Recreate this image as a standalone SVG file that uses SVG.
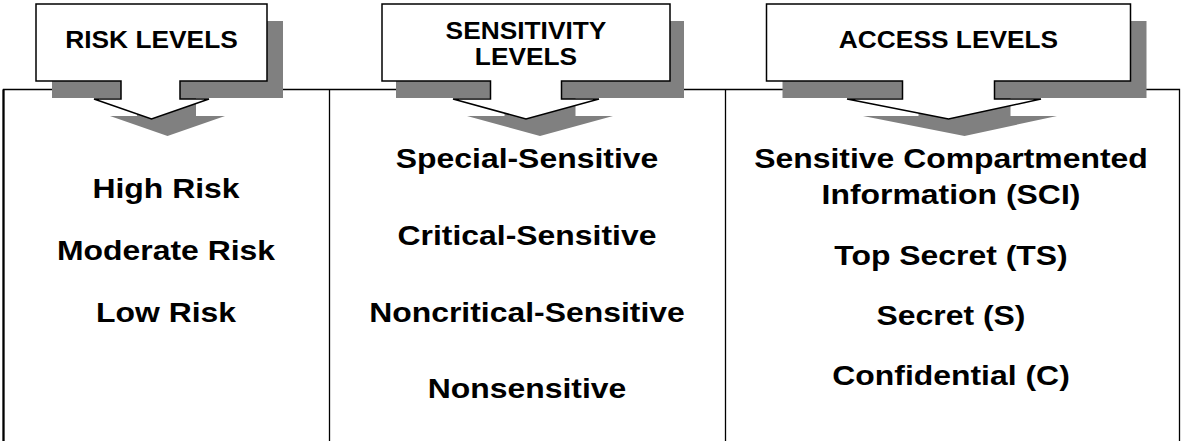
<svg xmlns="http://www.w3.org/2000/svg" width="1181" height="441" viewBox="0 0 1181 441">
<style>
.panel{fill:none;stroke:#000;stroke-width:1.3}
.shadow{fill:#808080;stroke:none}
.callout{fill:#fff;stroke:#000;stroke-width:1.5;stroke-linejoin:miter}
.hd{font-family:"Liberation Sans",Arial,sans-serif;font-weight:bold;font-size:23.5px;fill:#000;text-anchor:middle}
.it{font-family:"Liberation Sans",Arial,sans-serif;font-weight:bold;font-size:28.5px;fill:#000;text-anchor:middle}
</style>
<rect width="1181" height="441" fill="#fff"/>
<g id="panels">
<path class="panel" d="M3.5,441 V89.5 H1179.5 V441"/>
<path class="panel" d="M3.5,89.5 V441" style="stroke-width:2.2"/>
<path class="panel" d="M329.5,89.5 V441"/>
<path class="panel" d="M725.5,89.5 V441"/>
</g>
<g id="risk">
<path class="shadow" transform="translate(16,17)" d="M36,4 H267 V81 H180 V99 H209 L151.5,119 L94,99 H121 V81 H36 Z"/>
<path class="callout" d="M36,4 H267 V81 H180 V99 H209 L151.5,119 L94,99 H121 V81 H36 Z"/>
<text class="hd" transform="translate(151.5,48) scale(1.12,1)">RISK LEVELS</text>
<text class="it" transform="translate(166,198) scale(1.12,1)">High Risk</text>
<text class="it" transform="translate(166,260) scale(1.12,1)">Moderate Risk</text>
<text class="it" transform="translate(166,322) scale(1.12,1)">Low Risk</text>
</g>
<g id="sensitivity">
<path class="shadow" transform="translate(14,17)" d="M382,4 H670 V81 H561.5 V99 H599 L526,119 L453,99 H490.5 V81 H382 Z"/>
<path class="callout" d="M382,4 H670 V81 H561.5 V99 H599 L526,119 L453,99 H490.5 V81 H382 Z"/>
<text class="hd" transform="translate(526,39) scale(1.12,1)">SENSITIVITY</text>
<text class="hd" transform="translate(526,65) scale(1.12,1)">LEVELS</text>
<text class="it" transform="translate(527,168) scale(1.12,1)">Special-Sensitive</text>
<text class="it" transform="translate(527,245) scale(1.12,1)">Critical-Sensitive</text>
<text class="it" transform="translate(527,322) scale(1.12,1)">Noncritical-Sensitive</text>
<text class="it" transform="translate(527,398) scale(1.12,1)">Nonsensitive</text>
</g>
<g id="access">
<path class="shadow" transform="translate(16,17)" d="M766.5,4 H1130.5 V81 H994.5 V99 H1041 L948.5,119 L847,99 H902.5 V81 H766.5 Z"/>
<path class="callout" d="M766.5,4 H1130.5 V81 H994.5 V99 H1041 L948.5,119 L847,99 H902.5 V81 H766.5 Z"/>
<text class="hd" transform="translate(948.5,48) scale(1.12,1)">ACCESS LEVELS</text>
<text class="it" transform="translate(951,168) scale(1.12,1)">Sensitive Compartmented</text>
<text class="it" transform="translate(951,204) scale(1.12,1)">Information (SCI)</text>
<text class="it" transform="translate(951,265) scale(1.12,1)">Top Secret (TS)</text>
<text class="it" transform="translate(951,325) scale(1.12,1)">Secret (S)</text>
<text class="it" transform="translate(951,385) scale(1.12,1)">Confidential (C)</text>
</g>
</svg>
